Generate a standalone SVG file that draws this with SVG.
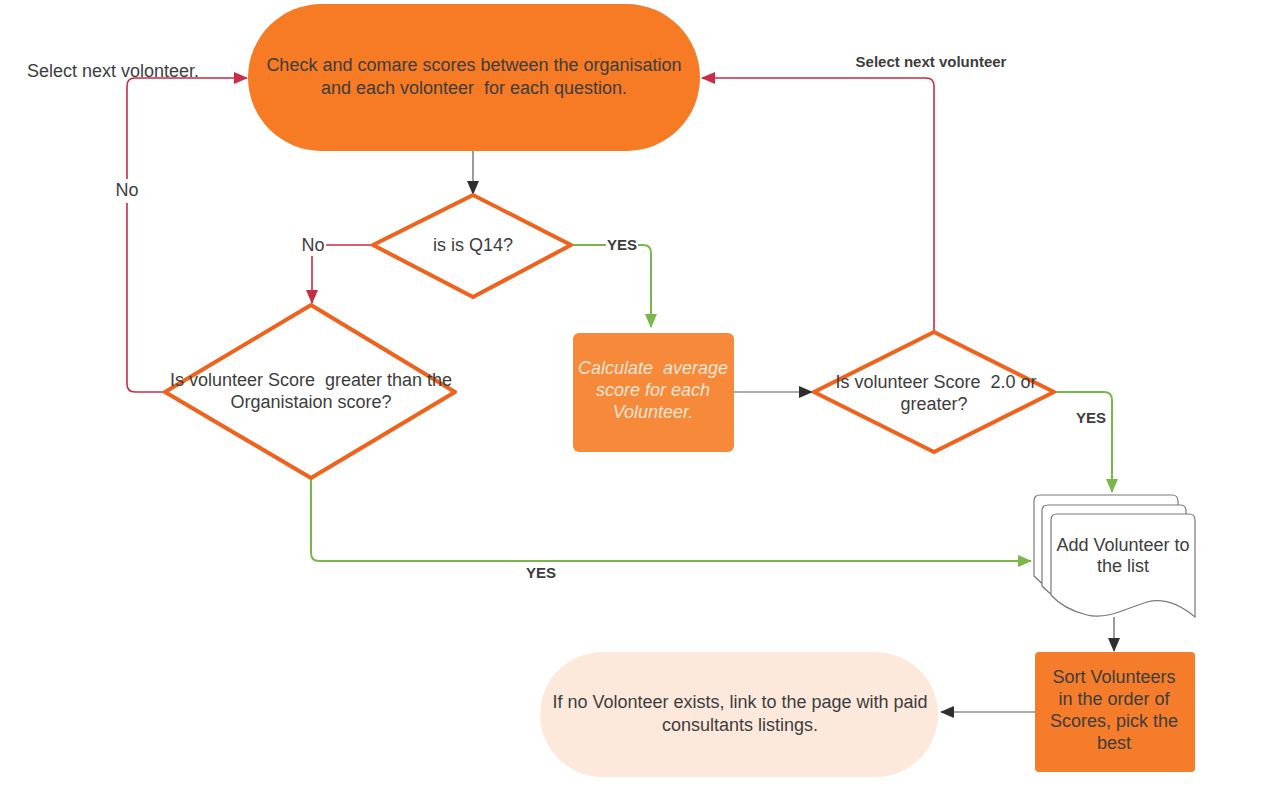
<svg xmlns="http://www.w3.org/2000/svg" width="1280" height="804" viewBox="0 0 1280 804">
<style>
text{font-family:"Liberation Sans",Arial,sans-serif;fill:#3d3d3d;font-size:18px;white-space:pre}
.c{text-anchor:middle}
.b{font-weight:bold;font-size:15px}
.dia{fill:#fff;stroke:#f0621c;stroke-width:4;stroke-linejoin:round}
.red{fill:none;stroke:#c92d45;stroke-width:1.6}
.grn{fill:none;stroke:#7ab648;stroke-width:2}
.gry{fill:none;stroke:#5a5a5a;stroke-width:1.2}
.doc{fill:#fff;stroke:#7a7a7a;stroke-width:1.2}
.it{font-style:italic;fill:#fde6d4}
.bg{fill:#fff}
</style>
<defs>
<marker id="aR" markerUnits="userSpaceOnUse" markerWidth="14" markerHeight="12" refX="13" refY="6" orient="auto"><path d="M0,0 L14,6 L0,12 Z" fill="#c92d45"/></marker>
<marker id="aG" markerUnits="userSpaceOnUse" markerWidth="14" markerHeight="12" refX="13" refY="6" orient="auto"><path d="M0,0 L14,6 L0,12 Z" fill="#7ab648"/></marker>
<marker id="aK" markerUnits="userSpaceOnUse" markerWidth="14" markerHeight="12" refX="13" refY="6" orient="auto"><path d="M0,0 L14,6 L0,12 Z" fill="#2f2f2f"/></marker>
<path id="docp" d="M0,81 L0,6 Q0,0 6,0 L138,0 Q144,0 144,6 L144,103 C126,88 111,84 96,88 C76,94 56,106 36,101 C20,97 8,90 0,81 Z"/>
</defs>
<rect width="1280" height="804" fill="#fff"/>

<g id="connectors">
<path class="gry" d="M473,151 L473,194" marker-end="url(#aK)"/>
<path class="red" d="M373,245 L312,245 L312,303" marker-end="url(#aR)"/>
<path class="grn" d="M571,245 L643,245 Q651,245 651,253 L651,327" marker-end="url(#aG)"/>
<path class="gry" d="M734,392 L812,392" marker-end="url(#aK)"/>
<path class="red" d="M934,332 L934,86 Q934,78 926,78 L702,78" marker-end="url(#aR)"/>
<path class="grn" d="M1054,392 L1104,392 Q1112,392 1112,400 L1112,492" marker-end="url(#aG)"/>
<path class="red" d="M165,392 L135,392 Q127,392 127,384 L127,86 Q127,78 135,78 L247,78" marker-end="url(#aR)"/>
<path class="grn" d="M311,478 L311,553 Q311,561 319,561 L1031,561" marker-end="url(#aG)"/>
<path class="gry" d="M1114,617 L1114,651" marker-end="url(#aK)"/>
<path class="gry" d="M1035,712 L941,712" marker-end="url(#aK)"/>
<rect class="bg" x="300" y="234" width="26" height="22"/>
<text x="313" y="251" class="c">No</text>
<rect class="bg" x="606" y="237" width="32" height="16"/>
<text x="622" y="250" class="c b">YES</text>
<rect class="bg" x="113" y="179" width="28" height="24"/>
<text x="127" y="196" class="c">No</text>
<text x="27" y="77" fill="#555">Select next volonteer.</text>
<text x="931" y="67" class="c b">Select next volunteer</text>
<text x="1091" y="423" class="c b">YES</text>
<text x="541" y="578" class="c b">YES</text>
</g>

<g id="start">
<rect x="248" y="4" width="452" height="147" rx="73.5" fill="#f77a24"/>
<text x="474" y="71" class="c">Check and comare scores between the organisation</text>
<text x="474" y="94" class="c">and each volonteer  for each question.</text>
</g>

<g id="q14">
<polygon class="dia" points="473,195 571,245 473,297 373,245"/>
<text x="473" y="251" class="c">is is Q14?</text>
</g>

<g id="greater">
<polygon class="dia" points="311,305 455,392 311,478 165,392"/>
<text x="311" y="386" class="c">Is volunteer Score  greater than the</text>
<text x="311" y="408" class="c">Organistaion score?</text>
</g>

<g id="calc">
<rect x="573" y="333" width="161" height="119" rx="6" fill="#f7893a"/>
<text x="653" y="374" class="c it">Calculate  average</text>
<text x="653" y="396" class="c it">score for each</text>
<text x="653" y="418" class="c it">Volunteer.</text>
</g>

<g id="score2">
<polygon class="dia" points="934,332 1054,392 934,452 814,392"/>
<text x="936" y="388" class="c">Is volunteer Score  2.0 or</text>
<text x="934" y="410" class="c">greater?</text>
</g>

<g id="addlist">
<use href="#docp" class="doc" transform="translate(1034,495)"/>
<use href="#docp" class="doc" transform="translate(1042,505)"/>
<use href="#docp" class="doc" transform="translate(1051,514)"/>
<text x="1123" y="551" class="c">Add Volunteer to</text>
<text x="1123" y="572" class="c">the list</text>
</g>

<g id="sort">
<rect x="1035" y="652" width="160" height="120" rx="4" fill="#f47c2a"/>
<text x="1114" y="683" class="c">Sort Volunteers</text>
<text x="1114" y="705" class="c">in the order of</text>
<text x="1114" y="727" class="c">Scores, pick the</text>
<text x="1114" y="749" class="c">best</text>
</g>

<g id="end">
<rect x="540" y="652" width="398" height="125" rx="62.5" fill="#fde9dc"/>
<text x="740" y="708" class="c">If no Volonteer exists, link to the page with paid</text>
<text x="740" y="731" class="c">consultants listings.</text>
</g>
</svg>
